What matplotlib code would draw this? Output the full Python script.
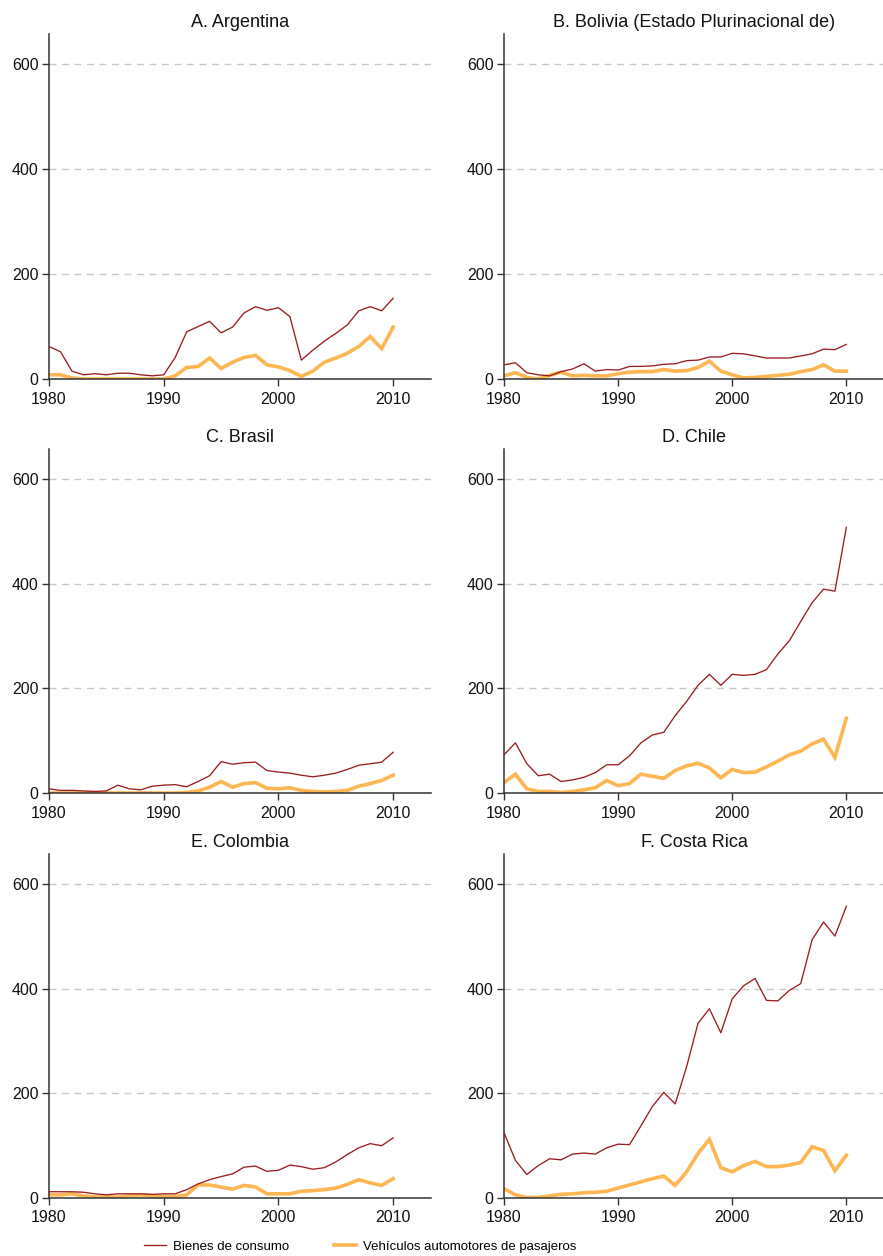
import matplotlib
matplotlib.use('Agg')
import matplotlib.pyplot as plt
from matplotlib import font_manager

plt.rcParams['font.family'] = ['Liberation Sans', 'DejaVu Sans']

years = list(range(1980, 2011))

titles = ['A. Argentina', 'B. Bolivia (Estado Plurinacional de)', 'C. Brasil',
          'D. Chile', 'E. Colombia', 'F. Costa Rica']

# Bienes de consumo
argentina_bienes = [62, 52, 15, 8, 10, 8, 11, 11, 8, 6, 8, 41, 90, 100, 110, 88, 99, 126,
                    138, 131, 136, 119, 36, 55, 72, 87, 103, 130, 138, 130, 154]
bolivia_bienes = [27, 31, 12, 8, 6, 14, 19, 29, 15, 18, 17, 24, 24, 25, 28, 29, 35, 36,
                  42, 42, 49, 48, 44, 40, 40, 40, 44, 48, 57, 56, 66]
brasil_bienes = [8, 5, 5, 4, 3, 4, 15, 8, 6, 13, 15, 16, 12, 22, 33, 60, 55, 58,
                 59, 43, 40, 38, 34, 31, 34, 38, 45, 53, 56, 59, 78]
chile_bienes = [73, 96, 56, 33, 36, 22, 25, 30, 39, 54, 54, 71, 96, 111, 116, 148, 175, 206,
                227, 206, 227, 225, 227, 236, 266, 291, 328, 364, 390, 386, 508]
colombia_bienes = [12, 12, 12, 11, 8, 6, 8, 8, 8, 7, 8, 8, 16, 27, 35, 41, 46, 59,
                   61, 51, 53, 63, 60, 55, 58, 69, 83, 96, 104, 100, 115]
costarica_bienes = [125, 72, 45, 62, 75, 73, 84, 86, 84, 96, 103, 102, 138, 175, 202, 180, 251, 334,
                    362, 316, 381, 406, 420, 378, 377, 397, 410, 494, 528, 501, 558]

# Vehiculos automotores de pasajeros
argentina_vehiculos = [8, 8, 2, 0, 0, 0, 0, 0, 0, 0, 0, 6, 22, 24, 40, 20, 32, 41,
                       45, 27, 23, 16, 5, 15, 32, 40, 49, 62, 81, 58, 99]
bolivia_vehiculos = [6, 12, 3, 0, 7, 13, 6, 7, 6, 6, 10, 13, 14, 14, 18, 15, 16, 22,
                     34, 15, 8, 2, 3, 5, 7, 9, 14, 18, 27, 15, 15]
brasil_vehiculos = [0, 0, 0, 0, 0, 0, 0, 0, 0, 0, 0, 0, 1, 4, 11, 22, 11, 18,
                    20, 9, 8, 10, 5, 3, 2, 3, 5, 13, 18, 24, 34]
chile_vehiculos = [20, 36, 8, 3, 3, 1, 3, 6, 10, 24, 14, 18, 36, 32, 28, 43, 52, 57,
                   48, 29, 45, 39, 40, 50, 61, 73, 80, 94, 103, 68, 143]
colombia_vehiculos = [6, 6, 8, 4, 2, 2, 2, 4, 6, 4, 3, 3, 6, 25, 25, 21, 17, 24,
                      21, 8, 8, 8, 13, 14, 16, 19, 26, 35, 29, 24, 37]
costarica_vehiculos = [18, 6, 1, 1, 4, 7, 8, 10, 11, 13, 19, 25, 31, 37, 42, 24, 50, 85,
                       112, 58, 50, 62, 70, 60, 60, 63, 68, 98, 91, 52, 82]

bienes = [argentina_bienes, bolivia_bienes, brasil_bienes,
          chile_bienes, colombia_bienes, costarica_bienes]
vehiculos = [argentina_vehiculos, bolivia_vehiculos, brasil_vehiculos,
             chile_vehiculos, colombia_vehiculos, costarica_vehiculos]

labels = ['Bienes de consumo', 'Vehículos automotores de pasajeros']
red = '#9B1C20'
orange = '#FDB651'

W, H = 883, 1256
fig = plt.figure(figsize=(W / 100, H / 100), dpi=100)

# panel boxes in pixels: (left, right) and (top, bottom)
cols = [(49, 431), (504, 884)]
rows = [(34, 379), (449, 793), (854, 1198)]

for i in range(6):
    r, c = divmod(i, 2)
    x0, x1 = cols[c]
    y0, y1 = rows[r]
    ax = fig.add_axes([x0 / W, 1 - y1 / H, (x1 - x0) / W, (y1 - y0) / H])
    ax.plot(years, bienes[i], color=red, lw=0.95, label=labels[0], zorder=3)
    ax.plot(years, vehiculos[i], color=orange, lw=2.6, label=labels[1], zorder=2,
            solid_joinstyle='miter')
    ax.set_xlim(1980, 2013.3)
    ax.set_ylim(0, 658)
    ax.set_xticks([1980, 1990, 2000, 2010])
    ax.set_yticks([0, 200, 400, 600])
    for v in [200, 400, 600]:
        ax.axhline(v, color='#C8C8C8', lw=1.0, dashes=(5, 4), zorder=1)
    for s in ['top', 'right']:
        ax.spines[s].set_visible(False)
    for s in ['left', 'bottom']:
        ax.spines[s].set_color('#333333')
        ax.spines[s].set_linewidth(1.1)
    ax.tick_params(axis='both', direction='out', length=5, width=1.0,
                   color='#333333', labelsize=11.5, labelcolor='#111111')
    ax.tick_params(axis='x', pad=4)
    ax.tick_params(axis='y', pad=2.5)
    ax.set_title(titles[i], fontsize=13, pad=5, color='#111111')

# legend font is a bit condensed in the original
names = {f.name for f in font_manager.fontManager.ttflist}
leg_family = 'Liberation Sans Narrow' if 'Liberation Sans Narrow' in names else 'Liberation Sans'
leg_size = 11.5 if leg_family == 'Liberation Sans Narrow' else 9.5

handles, leg_labels = ax.get_legend_handles_labels()
fig.legend(handles, leg_labels, loc='center', bbox_to_anchor=(360 / W, 1 - 1247 / H),
           ncol=2, frameon=False, prop={'family': leg_family, 'size': leg_size},
           handlelength=1.7, handletextpad=0.5, columnspacing=3.4)

fig.savefig('out.png', dpi=100)
